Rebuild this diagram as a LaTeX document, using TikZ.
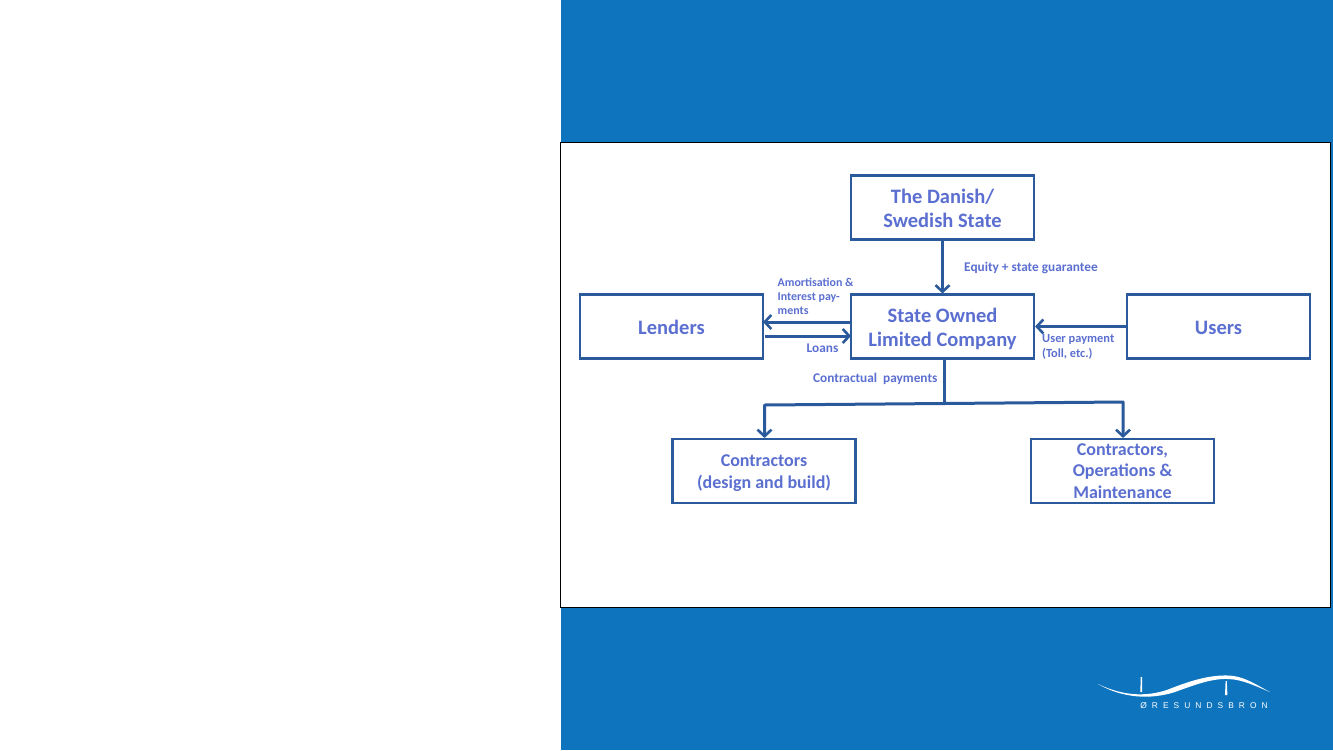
\documentclass[tikz,border=0pt]{standalone}
\usepackage{fontspec}
\setmainfont{Carlito}
\newfontfamily\logofont[LetterSpace=60]{Liberation Sans}
\usetikzlibrary{arrows.meta}
\usetikzlibrary{positioning}

\definecolor{slideblue}{HTML}{0E74BE}
\definecolor{boxline}{HTML}{2A5A9B}
\definecolor{boxtext}{HTML}{5B6FD0}

\newcommand{\boxlines}[2]{\raisebox{#1}[\height][\depth]{\begin{tabular}{@{}c@{}}#2\end{tabular}}}

\tikzset{
  orgbox/.style={draw=boxline, line width=2.1pt, fill=white, text=boxtext, align=center,
    minimum width=183pt, minimum height=64pt, inner sep=0pt, font=\fontsize{20.5}{24}\selectfont\bfseries},
  smallbox/.style={orgbox, font=\fontsize{18}{21.5}\selectfont\bfseries},
  flowlabel/.style={text=boxtext, align=left, inner sep=0pt, font=\fontsize{13.3}{14.5}\selectfont\bfseries},
  flow/.style={draw=boxline, line width=3pt, -{Straight Barb[length=6.5pt,width=14pt,line width=2.6pt]}},
  flowline/.style={draw=boxline, line width=3pt}
}

\begin{document}
\begin{tikzpicture}[x=1pt,y=-1pt]
        \useasboundingbox (0,0) rectangle (1333,750);

        % Background
        \fill[white] (0,0) rectangle (1333,750);
        \fill[slideblue] (561,0) rectangle (1333,750);
        \draw[black, line width=1pt, fill=white] (560.5,142.5) rectangle (1330.5,607);

        % Boxes
        \node[orgbox] (state) at (942.5,207.5) {\boxlines{-3pt}{The Danish/\\Swedish State}};
        \node[orgbox] (company) at (942.5,326.5) {\boxlines{-3pt}{State Owned\\Limited Company}};
        \node[orgbox] (lenders) at (671.5,326.5) {\boxlines{-3pt}{Lenders}};
        \node[orgbox] (users) at (1218.5,326.5) {\boxlines{-3pt}{Users}};
        \node[smallbox] (build) at (764,471) {\boxlines{-2pt}{Contractors\\(design and build)}};
        \node[smallbox] (operations) at (1122.5,471) {Contractors,\\Operations \&\\Maintenance};

        % Connection points
        \coordinate (repayout) at (851,322);
        \coordinate (repayin) at (763,322);
        \coordinate (loanout) at (765,336);
        \coordinate (loanin) at (851,336);
        \coordinate (split) at (944,403.5);
        \coordinate (splitleft) at (764.5,405);
        \coordinate (splitright) at (1123,402);

        % Flows
        \draw[flow] (state) -- (company);
        \draw[flow] (repayout) -- (repayin);
        \draw[flow] (loanout) -- (loanin);
        \draw[flow] (users) -- (company);
        \draw[flowline, line join=round] (company.south -| split) -- (split);
        \draw[flow, line join=round] (split) -- (splitleft) -- (build.north -| splitleft);
        \draw[flow, line join=round] (split) -- (splitright) -- (operations.north -| splitright);

        % Labels
        \node[flowlabel, anchor=west] (equity) at (964,267.5) {Equity + state guarantee};
        \node[flowlabel, anchor=north west, font=\fontsize{11.9}{14.3}\selectfont\bfseries] (amort) at (777.5,277.5) {Amortisation \&\\Interest pay-\\ments};
        \node[flowlabel, anchor=west] (loans) at (806.5,348) {Loans};
        \node[flowlabel, anchor=north west, font=\fontsize{12.4}{15}\selectfont\bfseries] (userpay) at (1042,334.5) {User payment\\(Toll, etc.)};
        \node[flowlabel, anchor=west] (contractual) at (813,378.5) {Contractual~ payments};

        % Logo
        \fill[white] (1098,684) .. controls (1125,697) and (1150,697) .. (1172,688)
          .. controls (1195,679) and (1212,675) .. (1228,675.5)
          .. controls (1245,676) and (1258,686) .. (1270,692)
          .. controls (1255,686) and (1243,679.5) .. (1228,679)
          .. controls (1212,678.5) and (1197,684) .. (1175,692)
          .. controls (1150,700) and (1122,698) .. (1098,684) -- cycle;
        \fill[white] (1140.6,677) -- (1142,677) -- (1142.2,692) -- (1140.4,692) -- cycle;
        \fill[white] (1225.6,681) -- (1226.8,681) -- (1227.4,695) -- (1225,695) -- cycle;
        \node[inner sep=0pt, text=white, font=\fontsize{8.4}{10}\logofont] (logotext) at (1204,706) {ØRESUNDSBRON};
      \end{tikzpicture}
\end{document}
